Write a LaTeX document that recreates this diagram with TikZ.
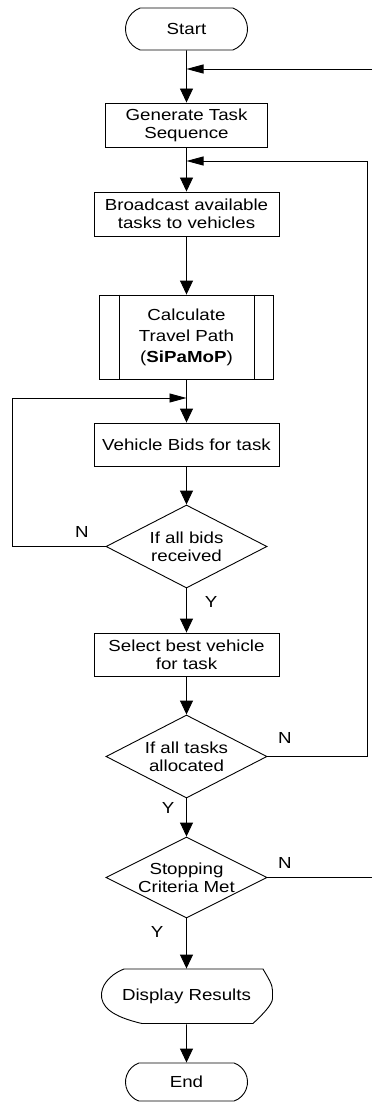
\documentclass[tikz,border=0pt]{standalone}
\usepackage{fontspec}
\setmainfont{Liberation Sans}[FakeStretch=1.17]
\usetikzlibrary{arrows.meta,shapes.geometric,shapes.misc}

\tikzset{
  base/.style={draw=black, line width=0.9pt, align=center, inner sep=0pt,
    font=\fontsize{16pt}{18pt}\selectfont},
  terminal/.style={base, rounded rectangle, rounded rectangle arc length=140,
    minimum width=122pt, minimum height=42pt},
  process/.style={base, rectangle, minimum width=185pt, minimum height=44pt},
  subproc/.style={base, rectangle, minimum width=174pt, minimum height=84pt},
  decision/.style={base, diamond, minimum width=161pt, minimum height=83pt},
  lbl/.style={font=\fontsize{16pt}{18pt}\selectfont, inner sep=0pt},
  line/.style={draw=black, line width=0.9pt},
  varrow/.style={line, -{Triangle[length=14pt,width=13pt]}},
  harrow/.style={line, -{Triangle[length=17pt,width=9pt]}}
}

\begin{document}
\begin{tikzpicture}[x=1pt, y=-1pt]
\useasboundingbox (0,0) rectangle (372,1102);

% process steps
\node[terminal] (start) at (186.5,29) {Start};
\node[process, minimum width=162pt] (gen) at (186.5,125) {Generate Task\\Sequence};
\node[process] (bcast) at (186.5,214) {Broadcast available\\tasks to vehicles};
\node[subproc, font=\fontsize{16pt}{21pt}\selectfont] (calc) at (186.5,337)
  {Calculate\\Travel Path\\(\textbf{SiPaMoP})};
\draw[line] ([xshift=20pt]calc.north west) -- ([xshift=20pt]calc.south west);
\draw[line] ([xshift=-20pt]calc.north east) -- ([xshift=-20pt]calc.south east);
\node[process, minimum height=43pt] (bids) at (186.5,444.5) {Vehicle Bids for task};
\node[decision, label={[lbl, align=center]center:If all bids\\received}] (d1) at (186.5,546.5) {};
\node[process, minimum height=43pt] (select) at (186.5,654.5) {Select best vehicle\\for task};
\node[decision, label={[lbl, align=center]center:If all tasks\\allocated}] (d2) at (186.5,756.5) {};
\node[decision, minimum height=81pt, label={[lbl, align=center]center:Stopping\\Criteria Met}] (d3) at (186.5,877.5) {};

% display symbol
\node[base, draw=none, minimum width=174pt, minimum height=55pt] (disp) at (186.5,996.5) {Display Results};
\begin{scope}[shift={(disp.center)}]
  \draw[line] (-62.5,-27.5) -- (76.5,-27.5) .. controls (82,-18) and (86,-12) .. (86,-6)
    -- (86,2) .. controls (86,8) and (76,18) .. (66.5,27)
    -- (-44.5,27) .. controls (-75,20) and (-86,10) .. (-85,-3)
    .. controls (-84,-15) and (-72,-24) .. cycle;
\end{scope}

\node[terminal, minimum height=38pt] (end) at (186.5,1082) {End};

% loop junctions and free ends at the right margin
\coordinate (rtop) at (372,69);
\coordinate (rbot) at (372,877.5);
\coordinate (j1) at (186.5,69);
\coordinate (j2) at (186.5,161);
\coordinate (j3) at (186.5,398);
\coordinate (rloop) at (367,161);
\coordinate (lloop) at (12,398);

% main flow
\draw[varrow] (start) -- (gen);
\draw[varrow] (gen) -- (bcast);
\draw[varrow] (bcast) -- (calc);
\draw[varrow] (calc) -- (bids);
\draw[varrow] (bids) -- (d1);
\draw[varrow] (d1) -- (select);
\draw[varrow] (select) -- (d2);
\draw[varrow] (d2) -- (d3);
\draw[varrow] (d3) -- (disp);
\draw[varrow] (disp) -- (end);

% feedback loops
\draw[harrow] (rtop) -- (j1);
\draw[harrow] (d2.east) -| (rloop) -- (j2);
\draw[harrow] (d1.west) -| (lloop) -- (j3);
\draw[line] (d3.east) -- (rbot);

% branch labels
\node[lbl] (n1) at (82,532) {N};
\node[lbl] (y1) at (211,602) {Y};
\node[lbl] (n2) at (285,738) {N};
\node[lbl] (y2) at (168,808) {Y};
\node[lbl] (n3) at (285,863) {N};
\node[lbl] (y3) at (157,932) {Y};
\end{tikzpicture}
\end{document}
